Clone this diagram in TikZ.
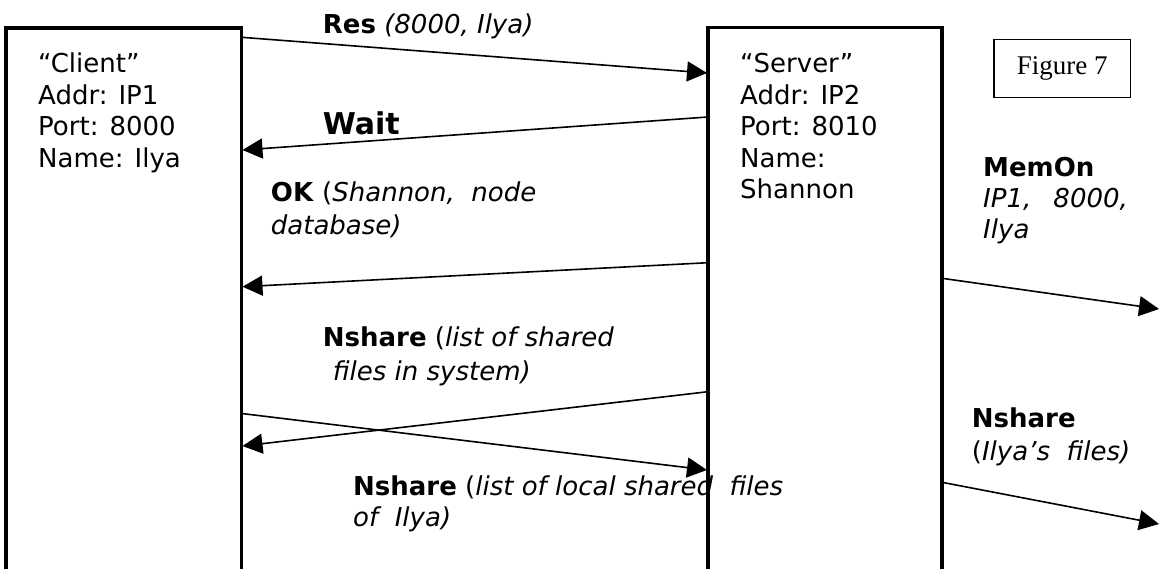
\documentclass[tikz,border=0pt]{standalone}
\usepackage{fontspec}
\setmainfont{DejaVu Sans}
\newfontfamily\figfont{Liberation Serif}
\usetikzlibrary{arrows.meta}
\begin{document}
\begin{tikzpicture}[x=1pt,y=-1pt,
  box/.style={draw, line width=3.2pt, rectangle, inner sep=0pt, outer sep=0pt,
    anchor=north west, minimum height=620pt},
  msg/.style={line width=1.6pt, -{Triangle[length=20pt,width=20pt]}},
  % multi-line labels are placed by the baseline of their last line
  txt/.style={inner sep=0pt, anchor=base west, align=left,
    font=\fontsize{26}{31.5}\selectfont},
  figbox/.style={draw, line width=1.4pt, inner sep=0pt, outer sep=0pt,
    minimum width=136.7pt, minimum height=58pt,
    font=\figfont\fontsize{27}{30}\selectfont},
]
\useasboundingbox (0,0) rectangle (1159,569);
\clip (0,0) rectangle (1159,569);

% hosts: open-bottomed boxes running off the page
\node[box, minimum width=235.7pt] (client) at (6,28) {};
\node[box, minimum width=234pt] (server) at (708,27.5) {};

\node[txt] (clienttxt) at (38,167.5)
  {“Client”\\Addr: IP1\\Port: 8000\\Name: Ilya};
\node[txt] (servertxt) at (740,199)
  {“Server”\\Addr: IP2\\Port: 8010\\Name:\\Shannon};

\node[figbox] (fig) at (1062.3,68.3) {Figure 7};

% message end points on the host edges
\coordinate (resA)  at (241.7,37.3);
\coordinate (resB)  at (707,73);
\coordinate (waitA) at (708,117);
\coordinate (waitB) at (242.5,150);
\coordinate (okA)   at (708,262.7);
\coordinate (okB)   at (242.5,286.7);
\coordinate (nsA)   at (708,391.7);
\coordinate (nsB)   at (242.5,446);
\coordinate (nlA)   at (241.7,413.5);
\coordinate (nlB)   at (707,470);
\coordinate (memA)  at (942,278.3);
\coordinate (memB)  at (1159,309);
\coordinate (nfA)   at (942,482.3);
\coordinate (nfB)   at (1159,524);

\draw[msg] (resA) -- (resB);
\draw[msg] (waitA) -- (waitB);
\draw[msg] (okA) -- (okB);
\draw[msg] (nsA) -- (nsB);
\draw[msg] (nlA) -- (nlB);
\draw[msg] (memA) -- (memB);
\draw[msg] (nfA) -- (nfB);

% message labels
\node[txt] (resL) at (322.7,33.3) {\textbf{Res} \textit{(8000, Ilya)}};
\node[txt, font=\bfseries\fontsize{30}{36}\selectfont] (waitL) at (322.7,135) {Wait};
\node[txt, font=\fontsize{26}{33.3}\selectfont] (okL) at (270.7,235)
  {\textbf{OK} (\textit{Shannon,\ \ node}\\\textit{database)}};
\node[txt, font=\fontsize{26}{33.3}\selectfont] (nsL) at (322.7,380)
  {\textbf{Nshare} (\textit{list of shared}\\\hspace{10pt}\textit{files in system)}};
\node[txt, font=\fontsize{26}{31.7}\selectfont] (nlL) at (353,526.7)
  {\textbf{Nshare} (\textit{list of local shared\ \ files}\\\textit{of\ \ Ilya)}};
\node[txt, font=\fontsize{26}{31}\selectfont] (memL) at (983,239)
  {\textbf{MemOn}\\\textit{IP1,\hspace{0.85em}8000,}\\\textit{Ilya}};
\node[txt, font=\fontsize{26}{33}\selectfont] (nfL) at (971.7,460)
  {\textbf{Nshare}\\(\textit{Ilya's\ \ files)}};
\end{tikzpicture}
\end{document}
